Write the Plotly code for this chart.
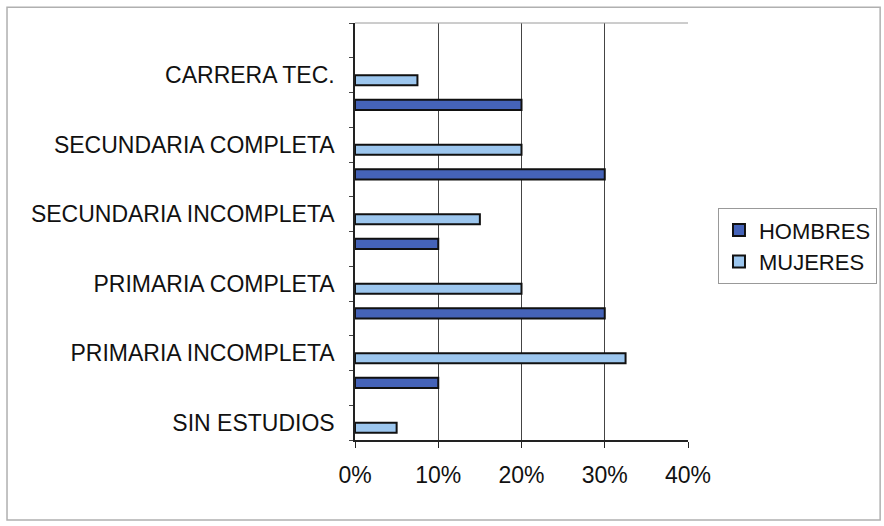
import plotly.graph_objects as go

# Rows of the category axis, bottom to top (blank rows carry no label)
rows = ["SIN ESTUDIOS", "", "PRIMARIA INCOMPLETA", "", "PRIMARIA COMPLETA", "",
        "SECUNDARIA INCOMPLETA", "", "SECUNDARIA COMPLETA", "", "CARRERA TEC.", ""]
hombres = [None, 10, None, 30, None, 10, None, 30, None, 20, None, None]
mujeres = [5, None, 32.5, None, 20, None, 15, None, 20, None, 7.5, None]
x_ticks = [0, 10, 20, 30, 40]
x_tick_labels = ["0%", "10%", "20%", "30%", "40%"]

pos = list(range(len(rows)))
label_pos = [i for i, r in enumerate(rows) if r]
label_txt = [r for r in rows if r]

FONT = "Liberation Sans, Arial, sans-serif"

fig = go.Figure()
fig.add_trace(go.Bar(
    name="MUJERES", y=pos, x=mujeres, orientation="h",
    marker=dict(color="#9cc6ee", line=dict(color="#111111", width=2)),
))
fig.add_trace(go.Bar(
    name="HOMBRES", y=pos, x=hombres, orientation="h",
    marker=dict(color="#4563b8", line=dict(color="#111111", width=2)),
))

fig.update_layout(
    width=884, height=526,
    margin=dict(l=355, r=196, t=23, b=86, autoexpand=False),
    paper_bgcolor="white", plot_bgcolor="white",
    barmode="group", bargap=0.42, bargroupgap=0,
    font=dict(family=FONT, size=23, color="#111111"),
    showlegend=True,
    legend=dict(
        x=1.09, y=0.556, xanchor="left", yanchor="top",
        traceorder="reversed",
        bgcolor="white", bordercolor="#999999", borderwidth=1,
        font=dict(family=FONT, size=22, color="#111111"),
        itemwidth=30, tracegroupgap=2,
    ),
    xaxis=dict(
        range=[0, 40], tickvals=x_ticks, ticktext=x_tick_labels,
        showgrid=True, gridcolor="#444444", gridwidth=1,
        showline=True, linecolor="#222222", linewidth=1.5,
        ticks="outside", ticklen=6, tickcolor="#222222",
        ticklabelstandoff=8, zeroline=False, fixedrange=True,
        automargin=False,
    ),
    yaxis=dict(
        range=[-0.5, len(rows) - 0.5],
        tickmode="array", tickvals=label_pos, ticktext=label_txt,
        ticks="", showgrid=False, zeroline=False,
        showline=True, linecolor="#222222", linewidth=1.5,
        ticklabelstandoff=14, automargin=False,
        minor=dict(tick0=0.5, dtick=1, ticks="outside", ticklen=4,
                   tickcolor="#444444", showgrid=False),
    ),
    shapes=[
        # top edge of plot area
        dict(type="line", xref="paper", yref="paper", x0=0, x1=1, y0=1, y1=1,
             line=dict(color="#9a9a9a", width=1)),
        # outer chart frame
        dict(type="rect", xref="paper", yref="paper",
             x0=-1.045, x1=1.577, y0=-0.192, y1=1.038,
             line=dict(color="#b0b0b0", width=1.5)),
    ],
)

fig.write_html("out.html")
